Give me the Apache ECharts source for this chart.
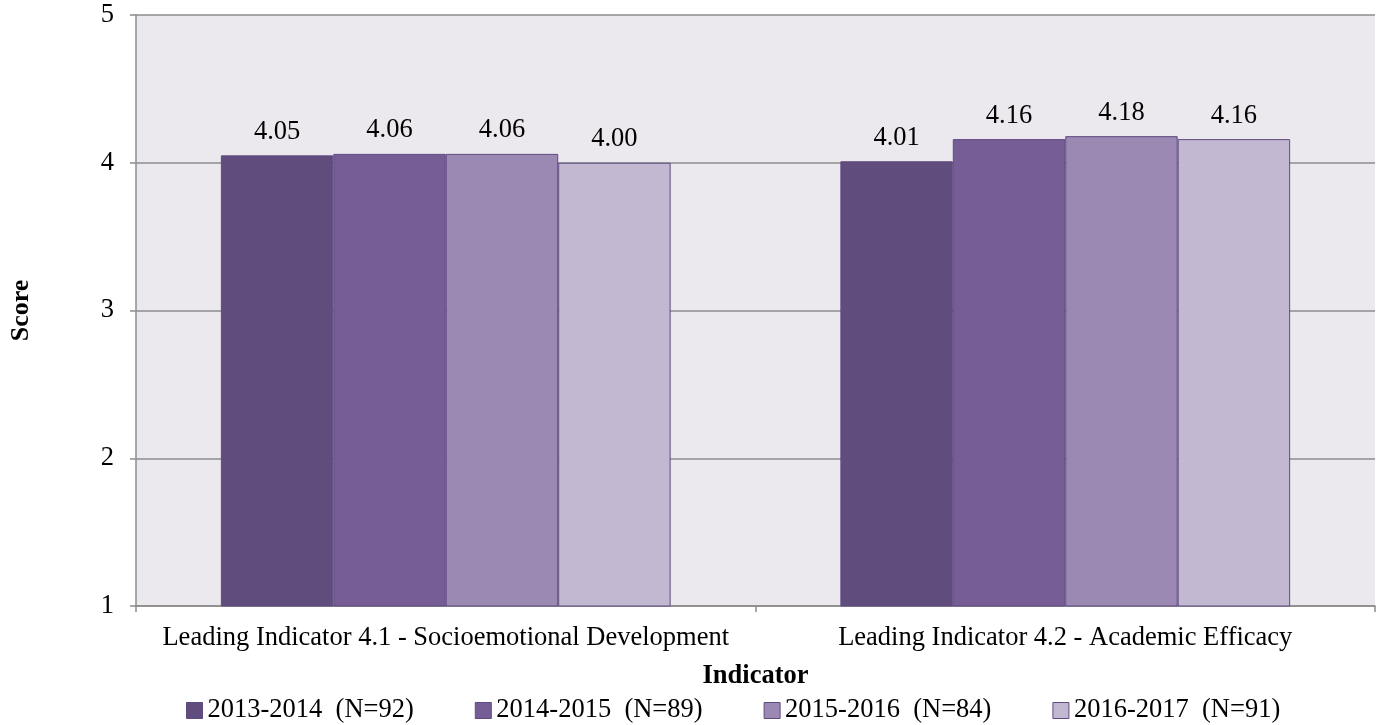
<!DOCTYPE html>
<html><head><meta charset="utf-8">
<script src="https://cdn.jsdelivr.net/npm/echarts@6/dist/echarts.min.js"></script>
<style>html,body{margin:0;padding:0;background:#fff}#c{width:1377px;height:725px}</style>
</head><body><div id="c"></div>
<script>
const categories = ['Leading Indicator 4.1 - Socioemotional Development', 'Leading Indicator 4.2 - Academic Efficacy'];
const seriesNames = ['2013-2014  (N=92)', '2014-2015  (N=89)', '2015-2016  (N=84)', '2016-2017  (N=91)'];
const s2013 = [4.05, 4.01];
const s2014 = [4.06, 4.16];
const s2015 = [4.06, 4.18];
const s2016 = [4.00, 4.16];
const yTicks = [1, 2, 3, 4, 5];

const colors = ['#614c7e', '#765d96', '#9b89b4', '#c2b8d1'];
const font = '"Liberation Serif", "Times New Roman", serif';
const fs = 26.5;
const values = [s2013, s2014, s2015, s2016];

const chart = echarts.init(document.getElementById('c'), null, {renderer: 'canvas'});
chart.setOption({
  animation: false,
  textStyle: {fontFamily: font},
  grid: {left: 136, right: 2, top: 15, bottom: 119, show: true, backgroundColor: '#ebe8ee', borderWidth: 0},
  legend: {
    top: 692, left: 181, itemWidth: 16, itemHeight: 16, itemGap: 61, icon: 'rect',
    textStyle: {fontFamily: font, fontSize: fs, color: '#000'},
    data: seriesNames.map((n, i) => ({name: n, itemStyle: {borderColor: '#5f4a7f', borderWidth: 1}}))
  },
  xAxis: {
    type: 'category', data: categories,
    name: 'Indicator', nameLocation: 'middle', nameGap: 57,
    nameTextStyle: {fontFamily: font, fontSize: fs, fontWeight: 'bold', color: '#000'},
    axisLine: {lineStyle: {color: '#8c8c8c', width: 1.5}},
    axisTick: {show: true, length: 6, lineStyle: {color: '#8c8c8c', width: 1.5}},
    axisLabel: {fontFamily: font, fontSize: fs, color: '#000', margin: 19, interval: 0, hideOverlap: false}
  },
  yAxis: {
    type: 'value', min: yTicks[0], max: yTicks[yTicks.length - 1], interval: 1,
    name: 'Score', nameLocation: 'middle', nameGap: 102, nameRotate: 90,
    nameTextStyle: {fontFamily: font, fontSize: 26, fontWeight: 'bold', color: '#000'},
    axisLine: {show: true, lineStyle: {color: '#8c8c8c', width: 1.5}},
    axisTick: {show: true, length: 6, lineStyle: {color: '#8c8c8c', width: 1.5}},
    axisLabel: {fontFamily: font, fontSize: fs, color: '#000', margin: 22},
    splitLine: {lineStyle: {color: '#8c8c8c', width: 1.5}}
  },
  series: seriesNames.map((n, i) => ({
    name: n, type: 'bar', data: values[i],
    barGap: '0%', barCategoryGap: '27.4%',
    itemStyle: {color: colors[i], borderColor: '#5f4a7f', borderWidth: 1},
    label: {show: true, position: 'top', distance: 10, formatter: p => p.value.toFixed(2),
      fontFamily: font, fontSize: fs, color: '#000'}
  }))
});
</script></body></html>
